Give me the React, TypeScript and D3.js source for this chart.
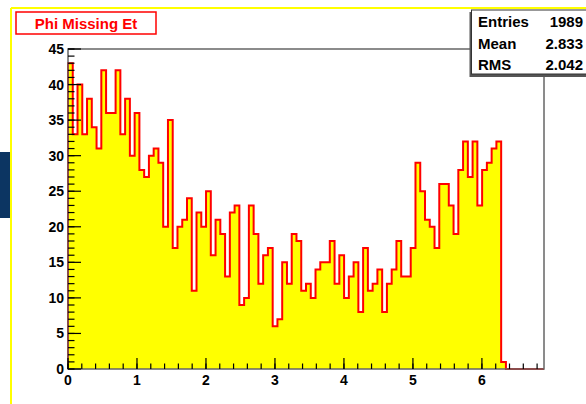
import React from "react";
import * as d3 from "d3";

// Histogram "Phi Missing Et": 100 bins from 0 to 6.9
const X_MIN = 0;
const X_MAX = 6.9;
const N_BINS = 100;
const binCounts: number[] = [
  43, 33, 40, 33, 38, 34, 31, 42, 36, 36,
  42, 33, 38, 30, 36, 28, 27, 30, 31, 29,
  20, 35, 17, 20, 21, 24, 11, 22, 20, 25,
  16, 21, 19, 13, 22, 23, 9, 10, 23, 19,
  12, 16, 17, 6, 7, 15, 12, 19, 18, 11,
  12, 10, 14, 15, 15, 18, 12, 16, 10, 13,
  15, 8, 17, 11, 12, 14, 8, 12, 14, 18,
  13, 13, 17, 29, 25, 21, 20, 17, 26, 26,
  23, 19, 28, 32, 27, 32, 23, 28, 29, 31,
  32, 1, 0, 0, 0, 0, 0, 0, 0, 0,
];
const xMajorTicks: number[] = [0, 1, 2, 3, 4, 5, 6];
const yMajorTicks: number[] = [0, 5, 10, 15, 20, 25, 30, 35, 40, 45];
const title = "Phi Missing Et";
const statsLabels: string[] = ["Entries", "Mean", "RMS"];
const statsValues: string[] = ["1989", "2.833", "2.042"];

const W = 586;
const H = 404;
const FONT = "'Liberation Sans', Arial, sans-serif";

export default function App() {
  const x = d3.scaleLinear().domain([X_MIN, X_MAX]).range([68, 544]);
  const y = d3.scaleLinear().domain([0, 45]).range([369, 49]);
  const bw = (X_MAX - X_MIN) / N_BINS;

  const pts: [number, number][] = [[X_MIN, 0]];
  binCounts.forEach((v, i) => {
    pts.push([X_MIN + i * bw, v]);
    pts.push([X_MIN + (i + 1) * bw, v]);
  });
  pts.push([X_MAX, 0]);

  const line = d3
    .line<[number, number]>()
    .x((d) => x(d[0]))
    .y((d) => y(d[1]));
  const area = d3
    .area<[number, number]>()
    .x((d) => x(d[0]))
    .y0(y(0))
    .y1((d) => y(d[1]));

  const xMinor = d3.range(0, X_MAX - 0.05, 0.2).map((v) => +v.toFixed(2));
  const yMinor = d3.range(0, 46, 1);

  return (
    <svg
      width={W}
      height={H}
      style={{ position: "absolute", left: 0, top: 0 }}
      fontFamily={FONT}
    >
      <rect x={0} y={0} width={W} height={H} fill="#ffffff" />
      {/* navy slide element */}
      <rect x={0} y={152} width={10} height={66} fill="#0c3562" />
      {/* yellow pad border */}
      <line x1={11} y1={8} x2={W} y2={8} stroke="#ffff00" strokeWidth={2} />
      <line x1={11} y1={8} x2={11} y2={H} stroke="#ffff00" strokeWidth={2} />

      {/* histogram */}
      <path d={area(pts) || ""} fill="#ffff00" />
      <path d={line(pts) || ""} fill="none" stroke="#ff0000" strokeWidth={2} />

      {/* frame */}
      <rect
        x={x(X_MIN)}
        y={y(45)}
        width={x(X_MAX) - x(X_MIN)}
        height={y(0) - y(45)}
        fill="none"
        stroke="#666"
        strokeWidth={1.5}
      />

      {/* x ticks */}
      {xMinor.map((v, i) => (
        <line
          key={"xm" + i}
          x1={x(v)}
          x2={x(v)}
          y1={y(0)}
          y2={y(0) - 5.5}
          stroke="#000"
          strokeWidth={1.2}
        />
      ))}
      {xMajorTicks.map((v) => (
        <line
          key={"xM" + v}
          x1={x(v)}
          x2={x(v)}
          y1={y(0)}
          y2={y(0) - 11}
          stroke="#000"
          strokeWidth={1.2}
        />
      ))}
      {xMajorTicks.map((v) => (
        <text
          key={"xl" + v}
          x={x(v)}
          y={385}
          textAnchor="middle"
          fontSize={14}
          fontWeight="bold"
          fill="#000"
        >
          {v}
        </text>
      ))}

      {/* y ticks */}
      {yMinor.map((v) => (
        <line
          key={"ym" + v}
          x1={x(X_MIN)}
          x2={x(X_MIN) + 6.5}
          y1={y(v)}
          y2={y(v)}
          stroke="#000"
          strokeWidth={1.2}
        />
      ))}
      {yMajorTicks.map((v) => (
        <line
          key={"yM" + v}
          x1={x(X_MIN)}
          x2={x(X_MIN) + 13}
          y1={y(v)}
          y2={y(v)}
          stroke="#000"
          strokeWidth={1.2}
        />
      ))}
      {yMajorTicks.map((v) => (
        <text
          key={"yl" + v}
          x={64}
          y={y(v) + 5}
          textAnchor="end"
          fontSize={14}
          fontWeight="bold"
          fill="#000"
        >
          {v}
        </text>
      ))}

      {/* title box */}
      <rect x={16} y={12} width={140} height={22} fill="#fff" stroke="#ff0000" strokeWidth={1.5} />
      <text
        x={86}
        y={28.5}
        textAnchor="middle"
        fontSize={15}
        fontWeight="bold"
        fill="#ff0000"
      >
        {title}
      </text>

      {/* stats box */}
      <rect x={469.5} y={12} width={130} height={65} fill="#555" />
      <rect x={471.5} y={10} width={130} height={64} fill="#fff" stroke="#333" strokeWidth={1} />
      {statsLabels.map((s, i) => (
        <text
          key={"sl" + i}
          x={478}
          y={27 + i * 21.5}
          fontSize={15}
          fontWeight="bold"
          fill="#000"
        >
          {s}
        </text>
      ))}
      {statsValues.map((s, i) => (
        <text
          key={"sv" + i}
          x={583}
          y={27 + i * 21.5}
          textAnchor="end"
          fontSize={15}
          fontWeight="bold"
          fill="#000"
        >
          {s}
        </text>
      ))}
    </svg>
  );
}
